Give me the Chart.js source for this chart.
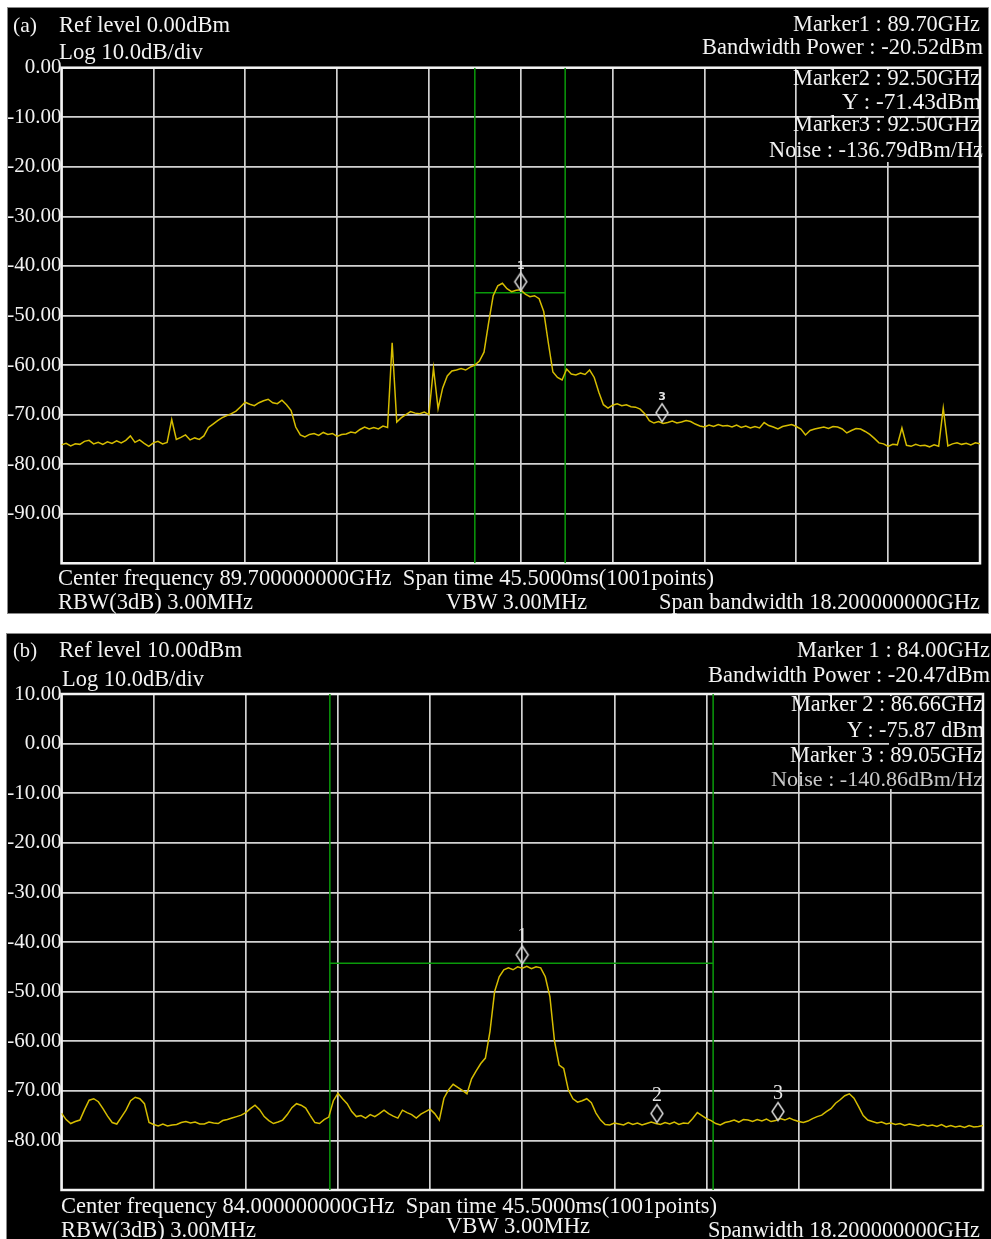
<!DOCTYPE html>
<html>
<head>
<meta charset="utf-8">
<script src="https://cdn.jsdelivr.net/npm/chart.js@4.4.1/dist/chart.umd.min.js"></script>
<style>
  html, body { margin: 0; padding: 0; background: #fff; }
  body { width: 991px; height: 1239px; position: relative; overflow: hidden; font-family: 'Liberation Serif', 'Times New Roman', serif; }
  .panel { position: absolute; background: #000; box-sizing: border-box; border: 1px solid #888; }
  .chart-box { position: absolute; }
  .mask { position: absolute; background: #000; }
  .txt { position: absolute; white-space: pre; color: #f2f2f2; line-height: 1; transform-origin: 0 0; }
</style>
</head>
<body>
<div class="panel" style="left:7px;top:7px;width:982px;height:607px"></div>
<div class="panel" style="left:6px;top:633px;width:986px;height:607px"></div>
<div class="chart-box" style="left:8px;top:8px;width:980px;height:604px"><canvas id="chartA"></canvas></div>
<div class="chart-box" style="left:7px;top:634px;width:984px;height:605px"><canvas id="chartB"></canvas></div>
<div class="mask" style="left:884px;top:70px;width:9px;height:92px"></div>
<div class="mask" style="left:889px;top:696px;width:9px;height:93px"></div>
<div id="texts"></div>
<script>
// sweep: 201 samples (every 5th of the 1001 analyser points)
const sweepStep = 0.091;            // GHz per sample
const sweepStartA = 80.6, sweepEndA = 98.8;
const sweepStartB = 74.9, sweepEndB = 93.1;
const refLevelA = 0, refLevelB = 10, dBPerDiv = 10;

const gridFreqA = [80.6, 82.42, 84.24, 86.06, 87.88, 89.7, 91.52, 93.34, 95.16, 96.98, 98.8];
const gridFreqB = [74.9, 76.72, 78.54, 80.36, 82.18, 84.0, 85.82, 87.64, 89.46, 91.28, 93.1];

const levelsA = [
  -76.1, -75.8, -76.3, -75.9, -76.0, -75.4, -75.2, -75.9, -75.6, -76.0,
  -75.5, -75.8, -75.3, -75.7, -75.2, -74.3, -75.6, -75.1, -75.8, -76.4,
  -75.7, -75.4, -75.9, -75.6, -71.0, -75.0, -74.6, -74.1, -75.1, -74.7,
  -75.0, -74.3, -72.6, -71.9, -71.2, -70.6, -70.2, -69.8, -69.3, -68.4,
  -67.5, -67.9, -68.2, -67.6, -67.2, -66.9, -67.6, -67.8, -67.1, -68.0,
  -69.2, -72.5, -74.1, -74.5, -74.0, -73.8, -74.2, -73.6, -74.0, -73.8,
  -74.4, -74.0, -73.9, -73.5, -73.7, -73.0, -72.5, -72.9, -72.6, -72.9,
  -72.3, -72.6, -55.5, -71.5, -70.6, -70.0, -69.4, -69.7, -69.8, -69.5,
  -70.0, -60.6, -68.8, -64.6, -62.2, -61.2, -61.0, -60.7, -61.0, -60.4,
  -60.0, -59.2, -57.4, -51.5, -46.0, -44.0, -43.5, -44.6, -45.2, -44.9,
  -44.8, -45.7, -46.2, -46.0, -46.6, -49.2, -55.5, -61.4, -62.5, -63.0,
  -60.8, -61.8, -62.0, -61.6, -61.9, -61.0, -62.5, -65.5, -68.0, -68.7,
  -68.1, -67.8, -68.2, -68.0, -68.4, -68.5, -68.9, -69.8, -71.2, -71.7,
  -71.4, -71.8, -71.6, -71.3, -71.7, -71.5, -71.2, -71.4, -71.9, -72.3,
  -72.5, -72.1, -72.4, -72.0, -72.3, -72.2, -72.5, -72.1, -72.6, -72.3,
  -72.7, -72.4, -72.7, -71.6, -72.2, -72.5, -72.9, -72.4, -72.2, -72.0,
  -72.4, -72.9, -74.1, -73.2, -72.9, -72.7, -72.5, -72.8, -72.4, -72.5,
  -72.9, -73.7, -73.2, -72.8, -72.9, -73.4, -74.0, -74.8, -75.7, -75.9,
  -76.4, -76.0, -76.1, -72.7, -76.2, -76.4, -76.0, -76.3, -76.2, -76.5,
  -76.1, -76.4, -68.7, -76.3, -75.9, -75.7, -76.0, -75.8, -76.1, -75.7,
  -75.9
];

const levelsB = [
  -74.5, -75.8, -76.6, -76.2, -75.9, -73.8, -71.9, -71.6, -72.2, -73.6,
  -75.1, -76.4, -76.7, -75.3, -73.9, -72.0, -71.3, -71.6, -72.6, -76.4,
  -76.8, -77.1, -76.7, -77.1, -76.9, -76.8, -76.4, -76.2, -76.5, -76.3,
  -76.7, -76.7, -76.3, -76.5, -76.6, -76.0, -75.8, -75.5, -75.2, -74.9,
  -74.4, -73.6, -72.9, -73.8, -75.2, -76.0, -76.6, -76.3, -75.9, -74.8,
  -73.4, -72.6, -72.9, -73.5, -75.0, -76.4, -76.6, -75.8, -75.3, -72.0,
  -70.5, -71.6, -72.6, -74.2, -75.2, -75.0, -75.5, -74.8, -75.2, -74.6,
  -73.9, -74.6, -75.1, -75.5, -73.9, -74.4, -74.8, -75.5, -74.7, -74.2,
  -73.7, -74.6, -75.9, -71.5, -69.8, -68.7, -69.3, -69.9, -70.6, -67.6,
  -66.0, -64.5, -63.4, -58.0, -50.0, -47.0, -45.6, -45.2, -45.6, -45.0,
  -45.3, -44.9, -45.4, -45.0, -45.2, -47.0, -51.0, -60.0, -64.8, -65.5,
  -69.8, -71.6, -72.3, -72.0, -71.6, -72.4, -74.5, -75.9, -76.8, -76.9,
  -76.5, -76.7, -76.9, -76.4, -76.8, -76.5, -76.9, -76.6, -76.3, -76.6,
  -76.8, -76.4, -76.7, -76.3, -76.8, -76.5, -76.6, -75.6, -74.4, -75.0,
  -75.6, -76.0, -76.6, -76.9, -76.4, -76.2, -75.9, -76.3, -75.8, -75.9,
  -76.2, -75.8, -76.1, -75.7, -76.2, -76.0, -75.6, -75.9, -75.5, -75.9,
  -76.2, -76.4, -76.1, -75.6, -75.2, -74.9, -74.2, -73.6, -72.5, -71.8,
  -71.0, -70.6, -71.5, -73.2, -75.0, -75.9, -76.2, -76.5, -76.3, -76.7,
  -76.5, -76.8, -76.6, -77.0, -76.7, -76.9, -77.1, -76.8, -77.1, -76.9,
  -77.2, -76.8, -77.3, -77.0, -77.3, -77.1, -77.4, -77.0, -77.3, -77.2,
  -77.0
];

const markerFreqA = [89.7, 92.5];
const markerLevelA = [-45.0, -71.43];
const markerNameA = ['1', '3'];
const bandEdgesA = [88.79, 90.58];
const bandLevelA = -45.4;

const markerFreqB = [84.0, 86.66, 89.05];
const markerLevelB = [-44.4, -76.4, -76.0];
const markerNameB = ['1', '2', '3'];
const bandEdgesB = [80.2, 87.77];
const bandLevelB = -44.3;

const traceColor = '#d6bd00';
const bandColor = '#0a9a0a';
const gridColor = '#d2d2d2';

Chart.defaults.font.family = "'Liberation Serif', 'Times New Roman', serif";

function makeDiamond(w, h) {
  // tip of the diamond sits at the centre of the image
  const c = document.createElement('canvas');
  c.width = w + 4;
  c.height = 2 * h + 4;
  const g = c.getContext('2d');
  const cx = c.width / 2, tip = c.height / 2;
  g.strokeStyle = '#d8d8d8';
  g.lineWidth = 1.5;
  g.beginPath();
  g.moveTo(cx, tip - h);
  g.lineTo(cx + w / 2, tip - h / 2);
  g.lineTo(cx, tip);
  g.lineTo(cx - w / 2, tip - h / 2);
  g.closePath();
  g.stroke();
  return c;
}

const spectrumDecor = {
  id: 'spectrumDecor',
  beforeDatasetsDraw(chart) {
    const { ctx, chartArea: a } = chart;
    ctx.save();
    ctx.strokeStyle = '#f4f4f4';
    ctx.lineWidth = 2.5;
    ctx.strokeRect(a.left, a.top, a.right - a.left, a.bottom - a.top);
    ctx.restore();
  },
  afterDatasetsDraw(chart, args, opts) {
    const { ctx } = chart;
    const meta = chart.getDatasetMeta(0);
    ctx.save();
    ctx.font = opts.font;
    ctx.fillStyle = '#e4e4e4';
    ctx.textAlign = 'center';
    ctx.textBaseline = 'alphabetic';
    meta.data.forEach((pt, i) => ctx.fillText(opts.names[i], pt.x, pt.y - opts.lift));
    ctx.restore();
  }
};

function buildSpectrum(id, s) {
  const top = s.ref, bottom = s.ref - 10 * dBPerDiv;
  const trace = s.levels.map((y, i) => ({ x: s.start + i * sweepStep, y }));
  const line = (data, color, width) => ({
    data, borderColor: color, borderWidth: width, pointRadius: 0, tension: 0, fill: false,
  });
  return new Chart(document.getElementById(id), {
    type: 'line',
    data: {
      datasets: [
        {
          data: s.markerFreq.map((x, i) => ({ x, y: s.markerLevel[i] })),
          showLine: false,
          pointStyle: makeDiamond(12, 18),
          pointRadius: 8,
          borderWidth: 0,
        },
        line(trace, traceColor, 1.5),
        line([{ x: s.band[0], y: bottom }, { x: s.band[0], y: top }], bandColor, 1.5),
        line([{ x: s.band[1], y: bottom }, { x: s.band[1], y: top }], bandColor, 1.5),
        line([{ x: s.band[0], y: s.bandLevel }, { x: s.band[1], y: s.bandLevel }], bandColor, 1.5),
      ],
    },
    options: {
      responsive: true,
      maintainAspectRatio: false,
      animation: false,
      events: [],
      layout: { padding: s.pad },
      plugins: {
        legend: { display: false },
        tooltip: { enabled: false },
        spectrumDecor: { names: s.markerName, font: s.markerFont, lift: 22 },
      },
      scales: {
        x: {
          type: 'linear',
          min: s.start,
          max: s.end,
          afterBuildTicks: ax => { ax.ticks = s.grid.map(value => ({ value })); },
          ticks: { display: false },
          grid: { color: gridColor, lineWidth: 1.7, drawTicks: false },
          border: { display: false },
        },
        y: {
          min: bottom,
          max: top,
          afterFit: ax => { ax.width = s.axisWidth; },
          ticks: {
            stepSize: dBPerDiv,
            padding: 0,
            color: '#f2f2f2',
            font: { size: 21 },
            callback: v => (v === bottom ? '' : v.toFixed(2)),
          },
          grid: { color: gridColor, lineWidth: 1.7, drawTicks: false },
          border: { display: false },
        },
      },
    },
    plugins: [spectrumDecor],
  });
}

buildSpectrum('chartA', {
  start: sweepStartA, end: sweepEndA, ref: refLevelA, levels: levelsA, grid: gridFreqA,
  markerFreq: markerFreqA, markerLevel: markerLevelA, markerName: markerNameA,
  band: bandEdgesA, bandLevel: bandLevelA,
  markerFont: "bold 11px 'DejaVu Sans', sans-serif",
  axisWidth: 53.5, pad: { left: 0, top: 59.7, right: 8, bottom: 48.7 },
});

buildSpectrum('chartB', {
  start: sweepStartB, end: sweepEndB, ref: refLevelB, levels: levelsB, grid: gridFreqB,
  markerFreq: markerFreqB, markerLevel: markerLevelB, markerName: markerNameB,
  band: bandEdgesB, bandLevel: bandLevelB,
  markerFont: "20px 'Liberation Serif', serif",
  axisWidth: 54.5, pad: { left: 0, top: 60, right: 5, bottom: 49 },
});

// header / footer text: [text, left, right, baseline, font size, colour]
const texts = [
  ['(a)', 13, 37, 33, 21],
  ['Ref level 0.00dBm', 59, 230, 33, 22.5],
  ['Log 10.0dB/div', 59, 203, 60, 22.5],
  ['Marker1 : 89.70GHz', 793, 980, 32, 22.5],
  ['Bandwidth Power : -20.52dBm', 702, 983, 55, 22.5],
  ['Marker2 : 92.50GHz', 793, 980, 86, 22.5],
  ['Y : -71.43dBm', 842, 981, 110, 22.5],
  ['Marker3 : 92.50GHz', 793, 980, 132, 22.5],
  ['Noise : -136.79dBm/Hz', 769, 983, 158, 22.5],
  ['Center frequency 89.700000000GHz  Span time 45.5000ms(1001points)', 58, 714, 585, 23],
  ['RBW(3dB) 3.00MHz', 58, 253, 609, 23],
  ['VBW 3.00MHz', 446, 587, 609, 23],
  ['Span bandwidth 18.200000000GHz', 659, 980, 609, 23],
  ['(b)', 13, 37, 658, 21],
  ['Ref level 10.00dBm', 59, 242, 658, 22.5],
  ['Log 10.0dB/div', 62, 204, 687, 22.5],
  ['Marker 1 : 84.00GHz', 797, 990, 658, 22.5],
  ['Bandwidth Power : -20.47dBm', 708, 990, 683, 22.5],
  ['Marker 2 : 86.66GHz', 791, 983, 712, 22.5],
  ['Y : -75.87 dBm', 847, 984, 738, 22.5],
  ['Marker 3 : 89.05GHz', 790, 983, 763, 22.5],
  ['Noise : -140.86dBm/Hz', 771, 983, 787, 21, '#c8c8c8'],
  ['Center frequency 84.000000000GHz  Span time 45.5000ms(1001points)', 61, 717, 1213, 23],
  ['RBW(3dB) 3.00MHz', 61, 256, 1237, 23],
  ['VBW 3.00MHz', 446, 590, 1233, 23],
  ['Spanwidth 18.200000000GHz', 708, 980, 1237, 23],
];

const holder = document.getElementById('texts');
texts.forEach(([str, x1, x2, base, size, color]) => {
  const el = document.createElement('div');
  el.className = 'txt';
  el.textContent = str;
  el.style.fontSize = size + 'px';
  el.style.left = x1 + 'px';
  el.style.top = (base - 0.8375 * size) + 'px';
  if (color) el.style.color = color;
  holder.appendChild(el);
  const w = el.getBoundingClientRect().width;
  el.style.transform = 'scaleX(' + ((x2 - x1) / w).toFixed(4) + ')';
});
</script>
</body>
</html>
